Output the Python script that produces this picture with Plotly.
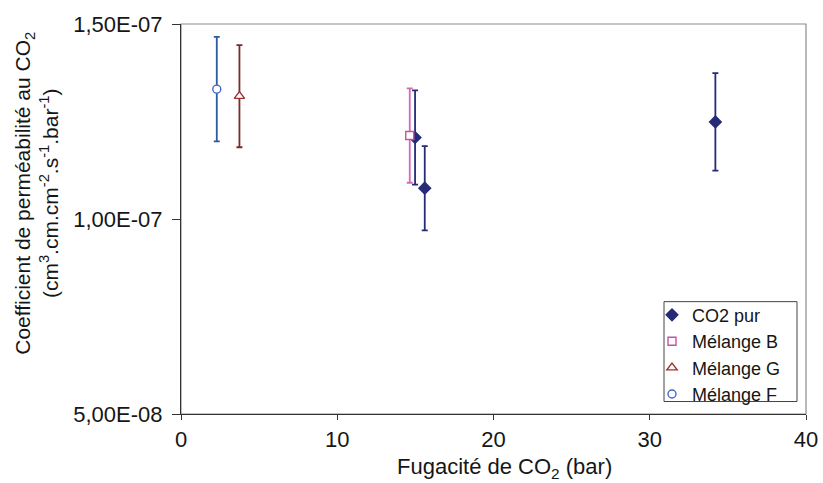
import plotly.graph_objects as go

# ---- data ----
series_names = ["CO2 pur", "Mélange B", "Mélange G", "Mélange F"]

co2_x = [14.98, 15.6, 34.2]
co2_y = [1.209e-7, 1.079e-7, 1.249e-7]
co2_err = [1.21e-8, 1.08e-8, 1.25e-8]

b_x = [14.64]
b_y = [1.214e-7]
b_err = [1.21e-8]

g_x = [3.74]
g_y = [1.315e-7]
g_err = [1.31e-8]

f_x = [2.29]
f_y = [1.333e-7]
f_err = [1.34e-8]

y_tickvals = [5e-8, 1e-7, 1.5e-7]
y_ticktext = ["5,00E-08", "1,00E-07", "1,50E-07"]
x_tickvals = [0, 10, 20, 30, 40]
x_ticktext = ["0", "10", "20", "30", "40"]

FONT = "Liberation Sans, Arial, sans-serif"
TXT = "#161616"

fig = go.Figure()

def add(name, xs, ys, errs, symbol, lcolor, ecolor, fill, size):
    fig.add_trace(go.Scatter(
        x=xs, y=ys, name=name, mode="markers",
        marker=dict(symbol=symbol, size=size, color=fill,
                    line=dict(color=lcolor, width=1.4)),
        error_y=dict(type="data", array=errs, visible=True,
                     color=ecolor, thickness=1.8, width=3),
    ))

add(series_names[0], co2_x, co2_y, co2_err, "diamond", "#262B78", "#262B78", "#262B78", 9)
add(series_names[1], b_x, b_y, b_err, "square", "#C9509F", "#D46AB2", "white", 8)
add(series_names[2], g_x, g_y, g_err, "triangle-up", "#A03030", "#7A2A2A", "white", 9)
add(series_names[3], f_x, f_y, f_err, "circle", "#4466CC", "#2E5A9E", "white", 8)

# body margin removed below, so figure coords = page coords
W, H = 823, 483
L, R, T, B = 181, 17, 24, 68.5
pw = W - L - R
ph = H - T - B

def px_x(p):
    return (p - L) / pw

def px_y(p):
    return (H - B - p) / ph

fig.update_layout(
    width=W, height=H,
    margin=dict(l=L, r=R, t=T, b=B, autoexpand=False),
    paper_bgcolor="white", plot_bgcolor="white",
    font=dict(family=FONT, size=20, color=TXT),
    showlegend=True,
    legend=dict(
        x=px_x(652), y=px_y(297), xanchor="left", yanchor="top",
        bgcolor="rgba(0,0,0,0)", borderwidth=0,
        font=dict(family=FONT, size=18, color=TXT),
        tracegroupgap=0,
    ),
    xaxis=dict(
        range=[0, 40], tickvals=x_tickvals, ticktext=x_ticktext,
        showgrid=False, zeroline=False,
        showline=True, linecolor="#333333", linewidth=1.3,
        ticks="outside", ticklen=5, tickcolor="#333333",
        tickfont=dict(family=FONT, size=22, color=TXT),
    ),
    yaxis=dict(
        range=[5e-8, 1.5e-7], tickvals=y_tickvals, ticktext=y_ticktext,
        showgrid=False, zeroline=False,
        showline=True, linecolor="#333333", linewidth=1.3,
        ticks="outside", ticklen=8, tickcolor="#333333",
        ticklabelstandoff=5,
        tickfont=dict(family=FONT, size=22, color=TXT),
    ),
    shapes=[
        dict(type="rect", xref="paper", yref="paper", x0=0, x1=1, y0=0, y1=1,
             line=dict(color="#8C8C8C", width=1.2), layer="below"),
        dict(type="rect", xref="paper", yref="paper",
             x0=px_x(664), x1=px_x(797), y0=px_y(402), y1=px_y(302),
             line=dict(color="#444444", width=1), layer="above"),
    ],
    annotations=[
        dict(text="Coefficient de perméabilité au CO<sub>2</sub><br>(cm<sup>3</sup>.cm.cm<sup>-2</sup>.s<sup>-1</sup>.bar<sup>-1</sup>)",
             xref="paper", yref="paper", x=px_x(36), y=px_y(194),
             xanchor="center", yanchor="middle", textangle=-90, showarrow=False,
             font=dict(family=FONT, size=21, color=TXT)),
        dict(text="Fugacité de CO<sub>2</sub> (bar)",
             xref="paper", yref="paper", x=px_x(504), y=px_y(469),
             xanchor="center", yanchor="middle", showarrow=False,
             font=dict(family=FONT, size=22, color=TXT)),
    ],
)

fig.write_html(
    "out.html",
    config={"displayModeBar": False},
    post_script="document.body.style.margin='0';document.body.style.overflow='hidden';",
)
